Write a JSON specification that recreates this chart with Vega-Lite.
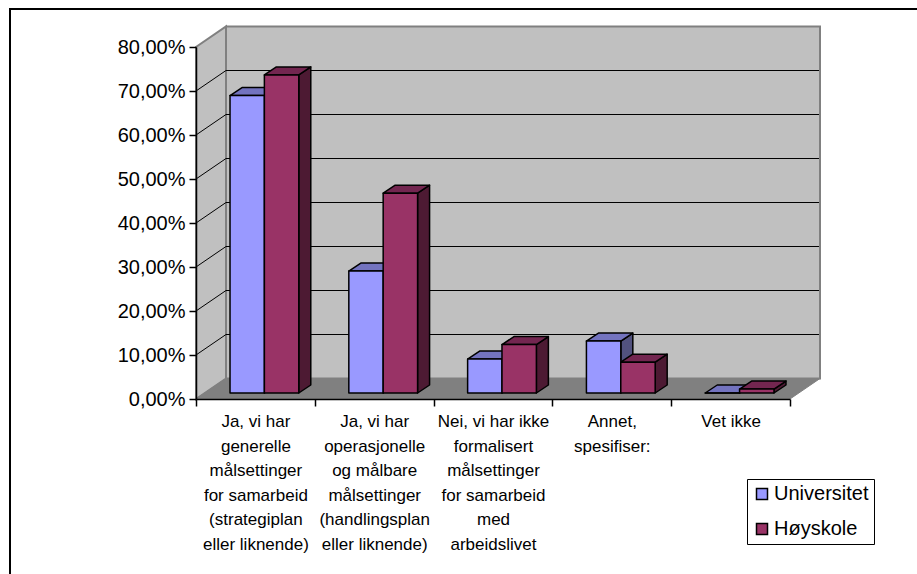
{
  "$schema": "https://vega.github.io/schema/vega-lite/v6.json",
  "width": 594,
  "height": 352,
  "autosize": "none",
  "padding": {"left": 196, "top": 47, "right": 127, "bottom": 175},
  "background": "white",
  "config": {
    "view": {"stroke": null},
    "font": "Liberation Sans"
  },
  "datasets": {
    "answers": [
      {"category": "Ja, vi har\ngenerelle\nmålsettinger\nfor samarbeid\n(strategiplan\neller liknende)", "series": "Universitet", "value": 0.676},
      {"category": "Ja, vi har\ngenerelle\nmålsettinger\nfor samarbeid\n(strategiplan\neller liknende)", "series": "Høyskole", "value": 0.723},
      {"category": "Ja, vi har\noperasjonelle\nog målbare\nmålsettinger\n(handlingsplan\neller liknende)", "series": "Universitet", "value": 0.277},
      {"category": "Ja, vi har\noperasjonelle\nog målbare\nmålsettinger\n(handlingsplan\neller liknende)", "series": "Høyskole", "value": 0.454},
      {"category": "Nei, vi har ikke\nformalisert\nmålsettinger\nfor samarbeid\nmed\narbeidslivet", "series": "Universitet", "value": 0.077},
      {"category": "Nei, vi har ikke\nformalisert\nmålsettinger\nfor samarbeid\nmed\narbeidslivet", "series": "Høyskole", "value": 0.11},
      {"category": "Annet,\nspesifiser:", "series": "Universitet", "value": 0.118},
      {"category": "Annet,\nspesifiser:", "series": "Høyskole", "value": 0.07},
      {"category": "Vet ikke", "series": "Universitet", "value": 0},
      {"category": "Vet ikke", "series": "Høyskole", "value": 0.009}
    ]
  },
  "encoding": {
    "x": {
      "field": "category", "type": "nominal", "sort": null, "title": null,
      "scale": {"type": "band", "paddingInner": 0, "paddingOuter": 0,
        "domain": [
          "Ja, vi har\ngenerelle\nmålsettinger\nfor samarbeid\n(strategiplan\neller liknende)",
          "Ja, vi har\noperasjonelle\nog målbare\nmålsettinger\n(handlingsplan\neller liknende)",
          "Nei, vi har ikke\nformalisert\nmålsettinger\nfor samarbeid\nmed\narbeidslivet",
          "Annet,\nspesifiser:",
          "Vet ikke"
        ]},
      "axis": {
        "zindex": 1, "labelAngle": 0, "domainColor": "black", "domainWidth": 1.5, "tickColor": "black", "tickWidth": 1.5, "tickSize": 7,
        "tickBand": "extent", "labelColor": "black", "labelFont": "Liberation Sans", "labelFontSize": 17, "labelLineHeight": 24.5,
        "labelPadding": 7.5, "labelLimit": 0, "labelOverlap": false, "labelBound": false, "labelFlush": false,
        "labelExpr": "split(datum.label, '\\n')"
      }
    },
    "y": {
      "field": "value", "type": "quantitative", "title": null,
      "scale": {"domain": [0, 0.8], "nice": false},
      "axis": {
        "zindex": 1, "values": [0, 0.1, 0.2, 0.3, 0.4, 0.5, 0.6, 0.7, 0.8], "grid": false, "domainColor": "black", "domainWidth": 1.5,
        "tickColor": "black", "tickWidth": 1.5, "tickSize": 7, "labelColor": "black", "labelFont": "Liberation Sans", "labelFontSize": 20,
        "labelPadding": 4, "labelOverlap": false, "labelBound": false, "labelFlush": false,
        "labelExpr": "replace(format(datum.value, '.2%'), '.', ',')"
      }
    },
    "xOffset": {"field": "series", "type": "nominal", "sort": ["Universitet", "Høyskole"], "scale": {"type": "band", "paddingInner": 0, "paddingOuter": 0.729}}
  },
  "layer": [
    {
      "description": "Outer chart frame: top and left edge only",
      "data": {"values": [{"value": 0}]},
      "mark": {"type": "point", "filled": false, "opacity": 1, "size": 4, "stroke": "black", "strokeWidth": 2,
        "shape": "M-186 240 L-186 -390 L740 -390"},
      "encoding": {
        "x": {"datum": "Ja, vi har\ngenerelle\nmålsettinger\nfor samarbeid\n(strategiplan\neller liknende)", "type": "nominal", "bandPosition": 0},
        "xOffset": null
      }
    },
    {
      "description": "Back wall and side wall of the 3-D box",
      "data": {"values": [{"value": 0}]},
      "mark": {"type": "point", "filled": true, "opacity": 1, "size": 4, "fill": "#C0C0C0", "stroke": "#808080", "strokeWidth": 2,
        "shape": "M30 -20.5 L624 -20.5 L624 -372.5 L30 -372.5 Z M0 0 L30 -20.5 L30 -372.5 L0 -352 Z"},
      "encoding": {
        "x": {"datum": "Ja, vi har\ngenerelle\nmålsettinger\nfor samarbeid\n(strategiplan\neller liknende)", "type": "nominal", "bandPosition": 0},
        "xOffset": null
      }
    },
    {
      "description": "Floor of the 3-D box",
      "data": {"values": [{"value": 0}]},
      "mark": {"type": "point", "filled": true, "opacity": 1, "size": 4, "fill": "#808080", "stroke": "#808080", "strokeWidth": 1,
        "shape": "M0 0 L594 0 L624 -20.5 L30 -20.5 Z"},
      "encoding": {
        "x": {"datum": "Ja, vi har\ngenerelle\nmålsettinger\nfor samarbeid\n(strategiplan\neller liknende)", "type": "nominal", "bandPosition": 0},
        "xOffset": null
      }
    },
    {
      "description": "Gridlines running over the side wall and along the back wall",
      "data": {"values": [{"value": 0.1}, {"value": 0.2}, {"value": 0.3}, {"value": 0.4}, {"value": 0.5}, {"value": 0.6}, {"value": 0.7}]},
      "mark": {"type": "point", "filled": false, "opacity": 1, "size": 4, "stroke": "black", "strokeWidth": 1,
        "shape": "M0 0 L30 -20.5 L623 -20.5"},
      "encoding": {
        "x": {"datum": "Ja, vi har\ngenerelle\nmålsettinger\nfor samarbeid\n(strategiplan\neller liknende)", "type": "nominal", "bandPosition": 0},
        "xOffset": null
      }
    },
    {
      "description": "Right-hand face of each column, its height follows the value (440 px per unit)",
      "data": {"name": "answers"},
      "transform": [
        {"calculate": "'M26.2 -6 L38.2 -14 L38.2 ' + (datum.value * 440 - 14) + ' L26.2 ' + (datum.value * 440 - 6) + ' Z'", "as": "sideFace"}
      ],
      "mark": {"type": "point", "filled": true, "opacity": 1, "size": 4, "stroke": "black", "strokeWidth": 1.5, "strokeJoin": "round"},
      "encoding": {
        "shape": {"field": "sideFace", "type": "nominal", "scale": null, "legend": null},
        "fill": {"condition": {"test": "datum.series === 'Universitet'", "value": "#52527F"}, "value": "#4D1A33"}
      }
    },
    {
      "description": "Top face of each column",
      "data": {"name": "answers"},
      "mark": {"type": "point", "filled": true, "opacity": 1, "size": 4, "stroke": "black", "strokeWidth": 1.5, "strokeJoin": "round",
        "shape": "M-8.2 -6 L3.8 -14 L38.2 -14 L26.2 -6 Z"},
      "encoding": {
        "fill": {"condition": {"test": "datum.series === 'Universitet'", "value": "#7373BF"}, "value": "#732650"}
      }
    },
    {
      "description": "Front face of each column, plus the legend",
      "data": {"name": "answers"},
      "transform": [
        {"calculate": "'M-8.2 -6 L26.2 -6 L26.2 ' + (datum.value * 440 - 6) + ' L-8.2 ' + (datum.value * 440 - 6) + ' Z'", "as": "frontFace"}
      ],
      "mark": {"type": "point", "filled": true, "opacity": 1, "size": 4, "stroke": "black", "strokeWidth": 1.5, "strokeJoin": "round"},
      "encoding": {
        "shape": {"field": "frontFace", "type": "nominal", "scale": null, "legend": null},
        "color": {
          "field": "series", "type": "nominal",
          "scale": {"domain": ["Universitet", "Høyskole"], "range": ["#9999FF", "#993366"]},
          "legend": {
            "title": null, "orient": "none", "legendX": 551, "legendY": 432, "fillColor": "white", "strokeColor": "black", "padding": 5,
            "symbolType": "square", "symbolSize": 121, "symbolStrokeColor": "black", "symbolStrokeWidth": 1.5, "symbolOpacity": 1,
            "labelFont": "Liberation Sans", "labelFontSize": 20, "labelColor": "black", "labelOffset": 2, "rowPadding": 15
          }
        }
      }
    }
  ]
}
